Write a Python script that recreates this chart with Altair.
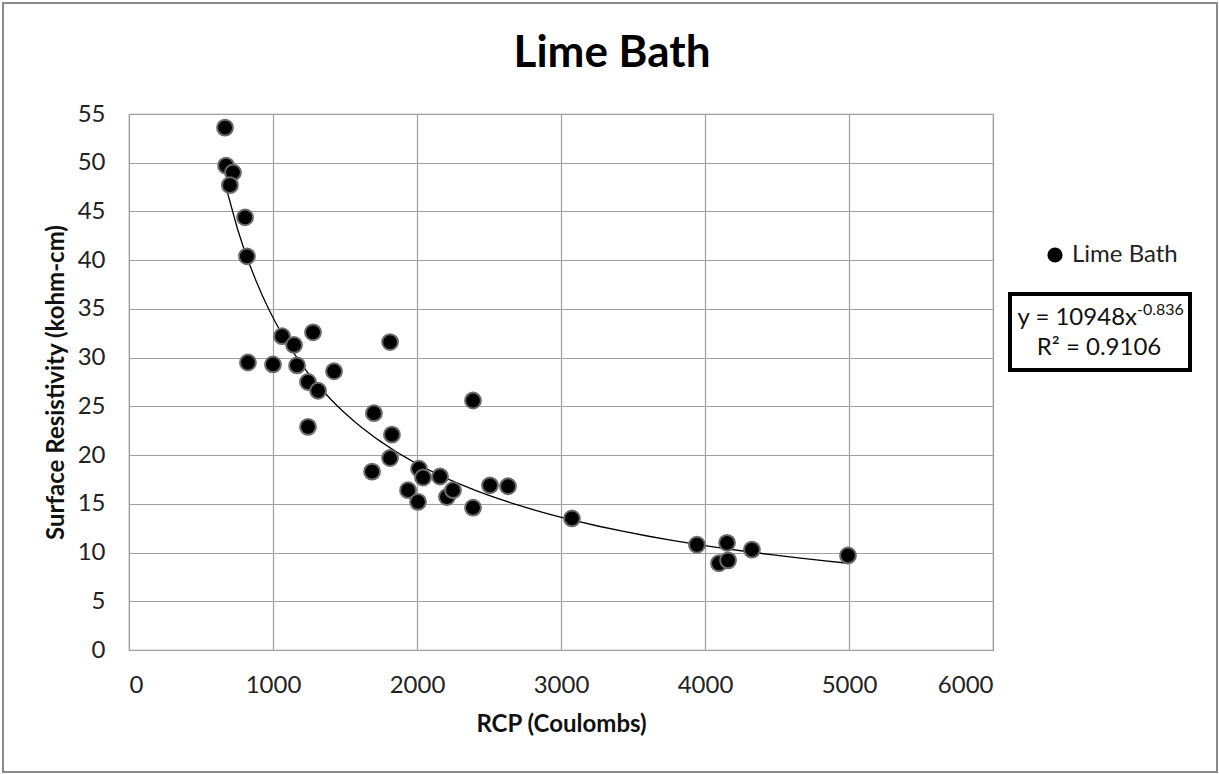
import altair as alt
import pandas as pd

rcp = [667, 674, 722, 701, 806, 819, 826, 1000, 1063, 1146, 1167, 1243, 1313, 1243,
       1278, 1424, 1813, 1701, 1688, 1826, 1813, 1938, 2007, 2014, 2042, 2160, 2208,
       2250, 2389, 2507, 2632, 2389, 3076, 3944, 4097, 4160, 4153, 4326, 4993]
resist = [53.6, 49.7, 49.0, 47.7, 44.4, 40.4, 29.5, 29.3, 32.2, 31.3, 29.2, 27.5, 26.6, 22.9,
          32.6, 28.6, 31.6, 24.3, 18.3, 22.1, 19.7, 16.4, 15.2, 18.6, 17.7, 17.8, 15.7,
          16.4, 14.6, 16.9, 16.8, 25.6, 13.5, 10.8, 8.9, 9.2, 11.0, 10.3, 9.7]
series = "Lime Bath"
x_ticks = [0, 1000, 2000, 3000, 4000, 5000, 6000]
y_ticks = [0, 5, 10, 15, 20, 25, 30, 35, 40, 45, 50, 55]

df = pd.DataFrame({"x": rcp, "y": resist, "series": [series] * len(rcp)})

FONT = "Lato"
W, H = 864, 536

xs = alt.Scale(domain=[0, 6000], nice=False, zero=False)
ys = alt.Scale(domain=[0, 55], nice=False, zero=False)

base = alt.Chart(df)

points = base.mark_point(filled=True, size=250, fill="black", stroke="#6a6a6a",
                         strokeWidth=2, opacity=1).encode(
    x=alt.X("x:Q", scale=xs, title="RCP (Coulombs)",
            axis=alt.Axis(values=x_ticks, format="d", grid=True, ticks=False, domain=False,
                          labelPadding=23, titlePadding=15)),
    y=alt.Y("y:Q", scale=ys, title="Surface Resistivity (kohm-cm)",
            axis=alt.Axis(values=y_ticks, format="d", grid=True, ticks=False, domain=False,
                          labelPadding=24, titlePadding=9)),
    color=alt.Color("series:N", scale=alt.Scale(domain=[series], range=["black"]),
                    legend=alt.Legend(title=None, orient="none", legendX=914, legendY=129,
                                      symbolType="circle", symbolSize=230,
                                      symbolStrokeWidth=0, labelFontSize=24,
                                      labelFont=FONT, labelColor="#222",
                                      labelOffset=5, padding=0)),
)

trend = base.transform_regression("x", "y", method="pow").mark_line(
    color="black", strokeWidth=1.3
).encode(x=alt.X("x:Q", scale=xs), y=alt.Y("y:Q", scale=ys))

title = alt.Chart(pd.DataFrame({"t": ["Lime Bath"]})).mark_text(
    font=FONT, fontSize=44, fontWeight="bold", color="black",
    align="center", baseline="middle"
).encode(text="t:N", x=alt.value(483), y=alt.value(-60))

outer = alt.Chart(pd.DataFrame({"a": [0]})).mark_rect(
    fill=None, stroke="#8a8a8a", strokeWidth=2, clip=False
).encode(x=alt.value(-126), x2=alt.value(1088), y=alt.value(-111), y2=alt.value(658))

box = alt.Chart(pd.DataFrame({"a": [0]})).mark_rect(
    fill="white", stroke="black", strokeWidth=4
).encode(x=alt.value(881), x2=alt.value(1061), y=alt.value(180), y2=alt.value(256))

eq1 = alt.Chart(pd.DataFrame({"t": ["y = 10948x"]})).mark_text(
    font=FONT, fontSize=24, color="#111", align="right", baseline="middle"
).encode(text="t:N", x=alt.value(1008), y=alt.value(204))

eq_sup = alt.Chart(pd.DataFrame({"t": ["-0.836"]})).mark_text(
    font=FONT, fontSize=16, color="#111", align="left", baseline="middle"
).encode(text="t:N", x=alt.value(1008), y=alt.value(196))

eq2 = alt.Chart(pd.DataFrame({"t": ["R² = 0.9106"]})).mark_text(
    font=FONT, fontSize=24, color="#111", align="center", baseline="middle"
).encode(text="t:N", x=alt.value(970), y=alt.value(234))

chart = alt.layer(outer, trend, points, title, box, eq1, eq_sup, eq2).properties(
    width=W, height=H,
    autosize=alt.AutoSizeParams(type="none"),
    padding={"left": 129, "top": 114, "right": 226, "bottom": 124},
    background="white",
).configure_view(
    stroke="#9a9a9a", strokeWidth=1.2
).configure_axis(
    gridColor="#a0a0a0", gridWidth=1.2, labelFont=FONT, labelFontSize=24,
    labelColor="#222", titleFont=FONT, titleFontSize=24, titleFontWeight="bold",
    titleColor="#111"
)

chart.save("out.html", embed_options={"renderer": "svg", "actions": False})
